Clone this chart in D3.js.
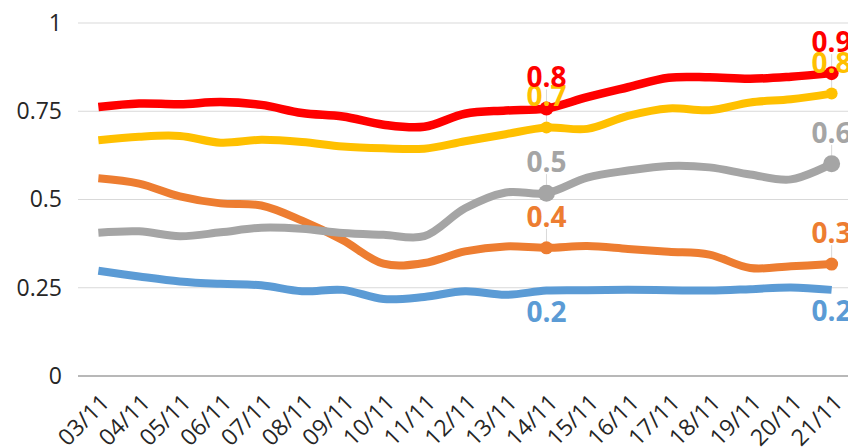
<!DOCTYPE html>
<html>
<head>
<meta charset="utf-8">
<script src="https://cdn.jsdelivr.net/npm/d3@7"></script>
<style>
  html, body { margin: 0; padding: 0; background: #fff; overflow: hidden; }
  svg { display: block; }
</style>
</head>
<body>
<div id="chart"></div>
<script>
// values
const dates = ["03/11", "04/11", "05/11", "06/11", "07/11", "08/11", "09/11", "10/11", "11/11", "12/11",
    "13/11", "14/11", "15/11", "16/11", "17/11", "18/11", "19/11", "20/11", "21/11"];

const redValues = [0.762, 0.772, 0.770, 0.776, 0.768, 0.745, 0.735, 0.712, 0.706, 0.743,
    0.752, 0.758, 0.790, 0.818, 0.845, 0.846, 0.842, 0.848, 0.858];
const yellowValues = [0.668, 0.678, 0.680, 0.661, 0.669, 0.663, 0.650, 0.645, 0.644, 0.665,
    0.685, 0.704, 0.700, 0.737, 0.758, 0.753, 0.775, 0.784, 0.800];
const grayValues = [0.406, 0.410, 0.396, 0.407, 0.420, 0.417, 0.405, 0.400, 0.396, 0.475,
    0.520, 0.518, 0.562, 0.582, 0.595, 0.591, 0.571, 0.557, 0.601];
const orangeValues = [0.560, 0.545, 0.509, 0.489, 0.483, 0.440, 0.385, 0.318, 0.320, 0.353,
    0.367, 0.363, 0.368, 0.360, 0.352, 0.344, 0.306, 0.311, 0.317];
const blueValues = [0.298, 0.282, 0.268, 0.261, 0.257, 0.240, 0.244, 0.218, 0.224, 0.240,
    0.230, 0.242, 0.243, 0.244, 0.243, 0.242, 0.246, 0.251, 0.244];

const yTicks = [0, 0.25, 0.5, 0.75, 1];
const labelledDates = ["14/11", "21/11"];

const width = 848, height = 447;
const margin = { left: 78, right: -4, top: 23, bottom: 71 };

const series = [
    { name: "blue", values: blueValues, color: "#5B9BD5", marker: 0, below: true },
    { name: "orange", values: orangeValues, color: "#ED7D31", marker: 6.5 },
    { name: "gray", values: grayValues, color: "#A5A5A5", marker: 8.5 },
    { name: "yellow", values: yellowValues, color: "#FFC000", marker: 6 },
    { name: "red", values: redValues, color: "#FF0000", marker: 7 }
];

const svg = d3.select("#chart").append("svg")
    .attr("width", width)
    .attr("height", height);

const x = d3.scalePoint()
    .domain(dates)
    .range([margin.left, width - margin.right])
    .padding(0.5);

const y = d3.scaleLinear()
    .domain([0, 1])
    .range([height - margin.bottom, margin.top]);

// gridlines
svg.append("g").selectAll("line")
    .data(yTicks.filter(d => d > 0))
    .enter().append("line")
    .attr("x1", margin.left)
    .attr("x2", width)
    .attr("y1", d => y(d))
    .attr("y2", d => y(d))
    .style("stroke", "#d9d9d9")
    .style("stroke-width", 1);

// y axis labels
const yAxis = svg.append("g")
    .attr("transform", "translate(" + (margin.left - 16) + ",0)")
    .call(d3.axisLeft(y).tickValues(yTicks).tickSize(0).tickPadding(0)
        .tickFormat(d => String(d)));
yAxis.select(".domain").remove();
yAxis.selectAll("text")
    .style("font-family", "'Open Sans', sans-serif")
    .style("font-size", "23px")
    .style("fill", "#262626");

// x axis
const xAxis = svg.append("g")
    .attr("transform", "translate(0," + y(0) + ")")
    .call(d3.axisBottom(x).tickSize(0).tickPadding(0));
xAxis.select(".domain")
    .attr("d", "M" + margin.left + ",0H" + width)
    .style("stroke", "#a0a0a0")
    .style("stroke-width", 1.5);
xAxis.selectAll("text")
    .attr("y", 0)
    .attr("dy", 0)
    .attr("text-anchor", "end")
    .attr("transform", "translate(12,28) rotate(-45)")
    .style("font-family", "'Open Sans', sans-serif")
    .style("font-size", "23px")
    .style("fill", "#262626");

// lines
const lineFunc = d3.line()
    .curve(d3.curveCatmullRom.alpha(0.5))
    .x((d, i) => x(dates[i]))
    .y(d => y(d));

svg.append("g").selectAll("path")
    .data(series)
    .enter().append("path")
    .attr("d", s => lineFunc(s.values))
    .attr("fill", "none")
    .attr("stroke", s => s.color)
    .attr("stroke-width", s => s.name === "red" ? 8.5 : 8)
    .attr("stroke-linejoin", "round");

// markers, leader lines and data labels
const labels = [];
series.forEach(s => {
    labelledDates.forEach(dt => {
        const i = dates.indexOf(dt);
        labels.push({ s: s, v: s.values[i], date: dt });
    });
});

const labelGroup = svg.append("g");

labelGroup.selectAll(".leader")
    .data(labels.filter(d => !d.s.below))
    .enter().append("line")
    .attr("x1", d => x(d.date))
    .attr("x2", d => x(d.date))
    .attr("y1", d => y(d.v) - 19)
    .attr("y2", d => y(d.v) - d.s.marker)
    .style("stroke", "#d9d9d9")
    .style("stroke-width", 1);

labelGroup.selectAll("circle")
    .data(labels.filter(d => d.s.marker > 0))
    .enter().append("circle")
    .attr("cx", d => x(d.date))
    .attr("cy", d => y(d.v))
    .attr("r", d => d.s.marker)
    .attr("fill", d => d.s.color);

labelGroup.selectAll("text")
    .data(labels)
    .enter().append("text")
    .attr("x", d => x(d.date))
    .attr("y", d => d.s.below ? y(d.v) + 31 : y(d.v) - 21)
    .attr("text-anchor", "middle")
    .style("font-family", "'Open Sans', sans-serif")
    .style("font-weight", "bold")
    .style("font-size", "28px")
    .style("fill", d => d.s.color)
    .text(d => d3.format(".1f")(d.v));
</script>
</body>
</html>
